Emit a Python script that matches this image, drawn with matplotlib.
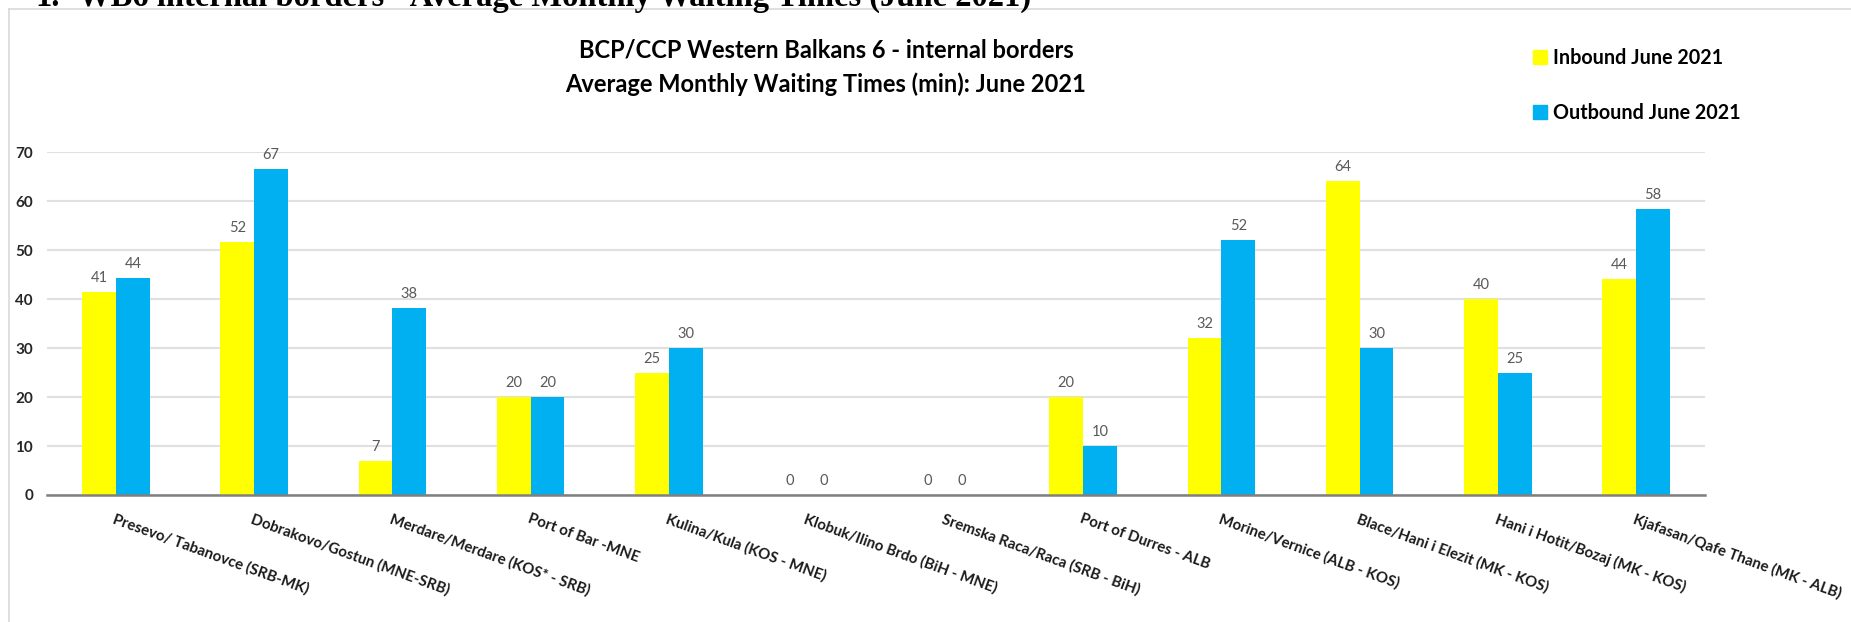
import numpy as np
import matplotlib
matplotlib.use("Agg")
import matplotlib.pyplot as plt
from matplotlib.patches import Patch
from matplotlib.lines import Line2D

crossings = ["Presevo/ Tabanovce (SRB-MK)", "Dobrakovo/Gostun (MNE-SRB)",
             "Merdare/Merdare (KOS* - SRB)", "Port of Bar -MNE",
             "Kulina/Kula (KOS - MNE)", "Klobuk/Ilino Brdo (BiH - MNE)",
             "Sremska Raca/Raca (SRB - BiH)", "Port of Durres - ALB",
             "Morine/Vernice (ALB - KOS)", "Blace/Hani i Elezit (MK - KOS)",
             "Hani i Hotit/Bozaj (MK - KOS)", "Kjafasan/Qafe Thane (MK - ALB)"]
inbound = [41.4, 51.7, 7, 20, 25, 0, 0, 20, 32, 64, 40, 44]
outbound = [44.3, 66.6, 38.2, 20, 30, 0, 0, 10, 52, 30, 25, 58.4]
yticks = [0, 10, 20, 30, 40, 50, 60, 70]

W, H = 1851, 622
FONT = "Lato"
yellow = "#FFFF00"
blue = "#00B0F0"

fig = plt.figure(figsize=(W / 100, H / 100), dpi=100)

# chart frame (only top and left edges visible)
fig.add_artist(Line2D([9 / W, 1], [1 - 9 / H, 1 - 9 / H], color="#d9d9d9", lw=1.2))
fig.add_artist(Line2D([9 / W, 9 / W], [0, 1 - 9 / H], color="#d9d9d9", lw=1.2))

# heading of the document, cut at the top
fig.text(35 / W, 1 - 6 / H, "1.", fontsize=23.5, fontweight="bold",
         family="Liberation Serif", va="baseline", ha="left")
fig.text(78 / W, 1 - 6 / H, "WB6 internal borders - Average Monthly Waiting Times (June 2021)",
         fontsize=23.5, fontweight="bold", family="Liberation Serif", va="baseline", ha="left")

ax = fig.add_axes([47 / W, 1 - 495 / H, (1705 - 47) / W, (495 - 152) / H])
x = np.arange(len(crossings))
bw = 0.245
b1 = ax.bar(x - bw / 2, inbound, bw, color=yellow, zorder=3)
b2 = ax.bar(x + bw / 2, outbound, bw, color=blue, zorder=3)

for bars, vals in ((b1, inbound), (b2, outbound)):
    for rect, v in zip(bars, vals):
        ax.annotate(f"{v:.0f}", (rect.get_x() + rect.get_width() / 2, v),
                    xytext=(0, 5), textcoords="offset points", ha="center", va="bottom",
                    fontsize=10.5, color="#595959", family=FONT)

ax.set_xlim(-0.5, len(crossings) - 0.5)
ax.set_ylim(0, 70)
ax.set_yticks(yticks)
ax.set_yticklabels([str(t) for t in yticks], fontsize=11, fontweight="bold",
                   family=FONT, color="#262626")
ax.set_xticks(x)
ax.set_xticklabels(crossings, rotation=-20, ha="left", va="top", rotation_mode="anchor",
                   fontsize=10.8, fontweight="bold", family=FONT, color="#1a1a1a")
ax.tick_params(axis="both", length=0)
ax.tick_params(axis="x", pad=12)
ax.tick_params(axis="y", pad=10)
ax.grid(axis="y", color="#e0e0e0", lw=1.5, zorder=0)
for s in ("top", "right", "left"):
    ax.spines[s].set_visible(False)
ax.spines["bottom"].set_color("#808080")
ax.spines["bottom"].set_linewidth(1.8)
ax.spines["bottom"].set_zorder(4)

fig.text(826 / W, 1 - 50 / H, "BCP/CCP Western Balkans 6 - internal borders",
         ha="center", va="center", fontsize=17, fontweight="bold", family=FONT)
fig.text(826 / W, 1 - 84 / H, "Average Monthly Waiting Times (min): June 2021",
         ha="center", va="center", fontsize=17, fontweight="bold", family=FONT)

handles = [Patch(color=yellow), Patch(color=blue)]
fig.legend(handles, ["Inbound June 2021", "Outbound June 2021"],
           loc="upper left", bbox_to_anchor=(1533 / W, 1 - 48 / H), frameon=False,
           handlelength=0.7, handleheight=0.7, handletextpad=0.3, labelspacing=1.75,
           borderpad=0, borderaxespad=0,
           prop={"family": FONT, "weight": "bold", "size": 14.2})

fig.savefig("out.png", dpi=100)
